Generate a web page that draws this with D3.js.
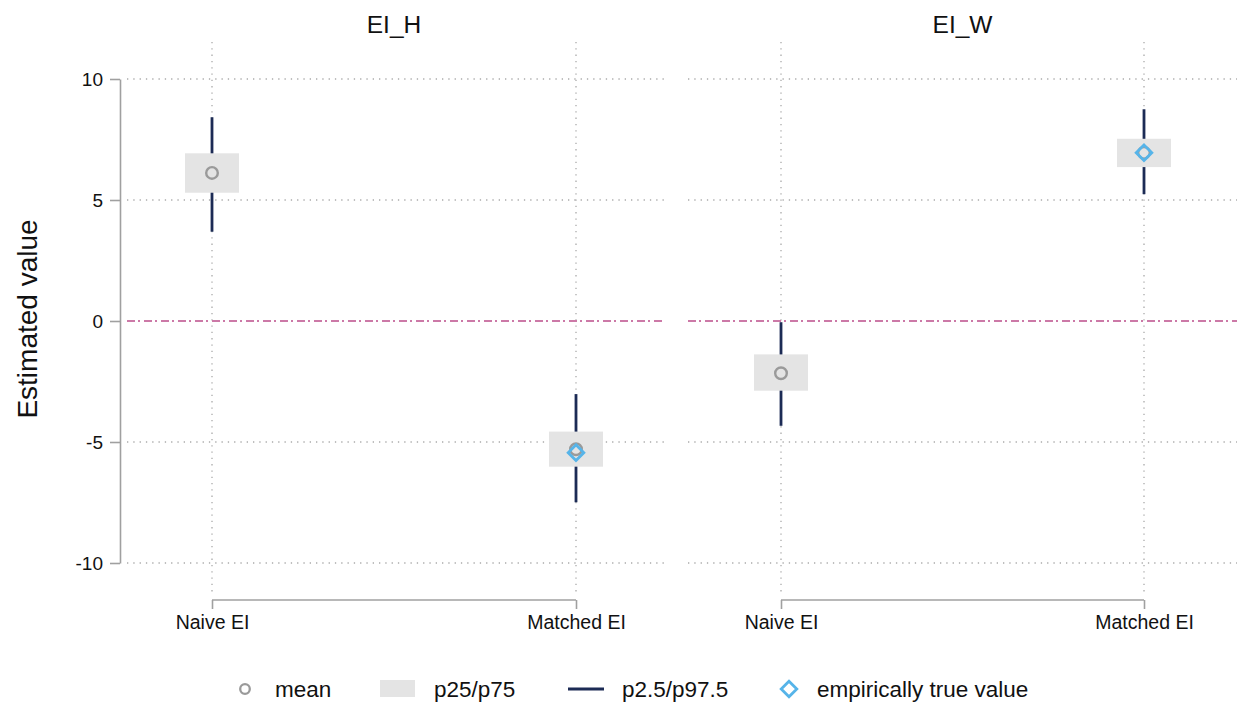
<!DOCTYPE html>
<html><head><meta charset="utf-8">
<script src="https://cdn.jsdelivr.net/npm/d3@7"></script>
<style>body{margin:0;background:#fff}svg{display:block;font-family:"Liberation Sans",Arial,Helvetica,sans-serif}</style>
</head><body><svg id="c" width="1237" height="705"></svg>
<script>
// ---- data ----
const panels = ["EI_H", "EI_W"];
const categories = ["Naive EI", "Matched EI"];
const meanVals = [[6.12, -5.30], [-2.16, 6.95]];
const p25Vals  = [[5.30, -6.02], [-2.88, 6.36]];
const p75Vals  = [[6.93, -4.57], [-1.38, 7.53]];
const p2_5Vals = [[3.69, -7.49], [-4.33, 5.24]];
const p97_5Vals= [[8.42, -3.02], [-0.05, 8.75]];
const trueVals = [[null, -5.44], [null, 6.95]];
const yTicks = [-10, -5, 0, 5, 10];
const legendLabels = ["mean", "p25/p75", "p2.5/p97.5", "empirically true value"];

// ---- styles ----
const C = {navy:"#1c2b55", box:"#e4e4e4", mean:"#9a9a9a", diam:"#56b4e9", ref:"#cc79a7", grid:"#aaaaaa", axis:"#a0a0a0", text:"#111"};

const svg = d3.select("#c");
const y = d3.scaleLinear().domain([-10, 10]).range([563, 79]);
const panelRanges = [[127, 665], [688, 1237]];
const catRanges = [[212, 576], [781, 1144]];
const gridTop = 42, gridBottom = 593, xAxisY = 600;

panels.forEach((pn, pi) => {
  const [x0, x1] = panelRanges[pi];
  const x = d3.scalePoint().domain(categories).range(catRanges[pi]).padding(0);
  const g = svg.append("g");
  // horizontal grid
  g.selectAll(".hg").data(yTicks.filter(t => t !== 0)).join("line")
    .attr("x1", x0).attr("x2", x1).attr("y1", d => y(d)).attr("y2", d => y(d))
    .attr("stroke", C.grid).attr("stroke-width", 1.3).attr("stroke-dasharray", "1.3,5");
  // vertical grid
  g.selectAll(".vg").data(categories).join("line")
    .attr("x1", d => x(d)).attr("x2", d => x(d)).attr("y1", gridTop).attr("y2", gridBottom)
    .attr("stroke", C.grid).attr("stroke-width", 1.3).attr("stroke-dasharray", "1.3,5");
  // zero reference line
  g.append("line").attr("x1", x0).attr("x2", x1).attr("y1", y(0)).attr("y2", y(0))
    .attr("stroke", C.ref).attr("stroke-width", 2).attr("stroke-dasharray", "8,3,2,4");
  // title
  g.append("text").attr("x", (x(categories[0]) + x(categories[1])) / 2).attr("y", 33)
    .attr("text-anchor", "middle").attr("font-size", 24.5).attr("fill", C.text).text(pn);
  // x axis
  const xa = g.append("g").attr("transform", `translate(0,${xAxisY})`)
    .call(d3.axisBottom(x).tickSize(9).tickPadding(6).tickSizeOuter(0));
  xa.select(".domain").attr("stroke", C.axis).attr("stroke-width", 1.6)
    .attr("d", `M${x(categories[0])},0H${x(categories[1])}`);
  xa.selectAll(".tick line").attr("stroke", C.axis).attr("stroke-width", 1.6).attr("y1", 0).attr("y2", 9);
  xa.selectAll(".tick text").attr("font-size", 19.5).attr("fill", C.text).attr("font-family", "Liberation Sans, Arial, sans-serif");

  const rows = categories.map((c, i) => ({c, m: meanVals[pi][i], lo: p25Vals[pi][i], hi: p75Vals[pi][i],
    w0: p2_5Vals[pi][i], w1: p97_5Vals[pi][i], t: trueVals[pi][i]}));
  // whiskers
  g.selectAll(".wh").data(rows).join("line")
    .attr("x1", d => x(d.c)).attr("x2", d => x(d.c)).attr("y1", d => y(d.w0)).attr("y2", d => y(d.w1))
    .attr("stroke", C.navy).attr("stroke-width", 2.8);
  // boxes
  const bw = 54;
  g.selectAll(".bx").data(rows).join("rect")
    .attr("x", d => x(d.c) - bw / 2).attr("width", bw)
    .attr("y", d => y(d.hi)).attr("height", d => y(d.lo) - y(d.hi)).attr("fill", C.box);
  // mean
  g.selectAll(".mn").data(rows).join("circle")
    .attr("cx", d => x(d.c)).attr("cy", d => y(d.m)).attr("r", 5.8)
    .attr("fill", "none").attr("stroke", C.mean).attr("stroke-width", 2.4);
  // true value diamonds
  const dr = 7.8;
  g.selectAll(".dm").data(rows.filter(d => d.t !== null)).join("path")
    .attr("d", d => { const cx = x(d.c), cy = y(d.t); return `M${cx},${cy - dr}L${cx + dr},${cy}L${cx},${cy + dr}L${cx - dr},${cy}Z`; })
    .attr("fill", "none").attr("stroke", C.diam).attr("stroke-width", 2.8);

  // y axis on first panel
  if (pi === 0) {
    const ya = svg.append("g").attr("transform", "translate(120,0)")
      .call(d3.axisLeft(y).tickValues(yTicks).tickFormat(d => String(d)).tickSize(10).tickPadding(7).tickSizeOuter(0));
    ya.select(".domain").attr("stroke", C.axis).attr("stroke-width", 1.6);
    ya.selectAll(".tick line").attr("stroke", C.axis).attr("stroke-width", 1.6);
    ya.selectAll(".tick text").attr("font-size", 19).attr("fill", C.text).attr("font-family", "Liberation Sans, Arial, sans-serif");
  }
});

// y title
svg.append("text").attr("transform", "translate(37,319) rotate(-90)")
  .attr("text-anchor", "middle").attr("font-size", 28).attr("fill", C.text).text("Estimated value");

// legend
const ly = 697, lc = 689;
const lg = svg.append("g").attr("font-size", 22.5).attr("fill", C.text);
lg.append("circle").attr("cx", 245).attr("cy", lc).attr("r", 4.8).attr("fill", "none").attr("stroke", C.mean).attr("stroke-width", 2.3);
lg.append("text").attr("x", 275).attr("y", ly).text(legendLabels[0]);
lg.append("rect").attr("x", 380).attr("y", 680).attr("width", 35).attr("height", 17).attr("fill", C.box);
lg.append("text").attr("x", 434).attr("y", ly).text(legendLabels[1]);
lg.append("line").attr("x1", 568).attr("x2", 604).attr("y1", lc).attr("y2", lc).attr("stroke", C.navy).attr("stroke-width", 3);
lg.append("text").attr("x", 622).attr("y", ly).text(legendLabels[2]);
lg.append("path").attr("d", `M789,${lc - 7.8}L796.8,${lc}L789,${lc + 7.8}L781.2,${lc}Z`).attr("fill", "none").attr("stroke", C.diam).attr("stroke-width", 2.8);
lg.append("text").attr("x", 817).attr("y", ly).text(legendLabels[3]);
</script></body></html>
